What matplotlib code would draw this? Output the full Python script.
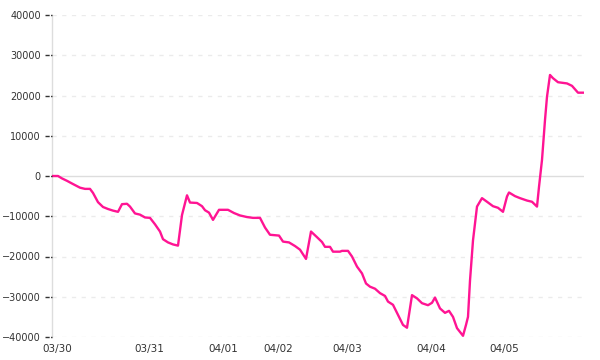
import matplotlib
matplotlib.use("Agg")
import matplotlib.pyplot as plt
import matplotlib.transforms as mtransforms
import numpy as np

# sample positions (step units along the x axis) and values
pos = [1, 6, 10, 15, 21, 28, 33, 38, 41, 46, 51, 56, 61, 66, 70, 75, 78, 83, 88,
       93, 98, 103, 108, 111, 116, 121, 126, 130, 135, 138, 145, 150, 153, 157,
       161, 167, 176, 182, 188, 195, 201, 208, 213, 218, 227, 231, 237, 243, 248,
       254, 259, 265, 270, 273, 278, 281, 288, 290, 296, 300, 305, 310, 314, 318,
       323, 328, 333, 336, 341, 346, 351, 355, 360, 365, 370, 376, 380, 383, 388,
       393, 397, 401, 405, 411, 414, 416, 418, 421, 425, 430, 435, 441, 446, 451,
       455, 457, 463, 468, 475, 480, 485, 487, 490, 493, 495, 498, 501, 506, 515,
       520, 526, 532]
values = [0, 0, -600, -1200, -2000, -2900, -3200, -3200, -4200, -6500, -7700,
          -8200, -8600, -8900, -7000, -6900, -7600, -9300, -9600, -10300, -10400,
          -12000, -13800, -15700, -16500, -17000, -17300, -9700, -4800, -6600,
          -6700, -7500, -8500, -9100, -10900, -8400, -8400, -9200, -9800, -10200,
          -10400, -10400, -12800, -14600, -14800, -16300, -16500, -17400, -18300,
          -20600, -13800, -15200, -16400, -17600, -17600, -18800, -18800, -18600,
          -18600, -20000, -22500, -24200, -26700, -27500, -28000, -29100, -29800,
          -31200, -32000, -34500, -37000, -37700, -29600, -30400, -31600, -32100,
          -31500, -30200, -32900, -34000, -33500, -35000, -37800, -39700, -37000,
          -35000, -26000, -16000, -7600, -5500, -6400, -7500, -7900, -8900, -5100,
          -4100, -5000, -5500, -6100, -6400, -7600, -2700, 4000, 13900, 19700,
          25100, 24300, 23300, 23000, 22400, 20700, 20700]

tick_pos = [5.7, 97.3, 171.3, 226.3, 295.7, 379, 452]
tick_labels = ["03/30", "03/31", "04/01", "04/02", "04/03", "04/04", "04/05"]
y_ticks = [40000, 30000, 20000, 10000, 0, -10000, -20000, -30000, -40000]

fig = plt.figure(figsize=(6, 3.6), dpi=100)
ax = fig.add_axes([52/600, 23/360, 532/600, 322/360])

for v in y_ticks:
    if v == 0:
        ax.axhline(v, color="#dddddd", lw=1, zorder=1)
    else:
        ax.axhline(v, color="#ebebeb", lw=1, ls=(0, (3, 4)), zorder=1)

ax.plot(pos, values, color="#ff1493", lw=1.7, zorder=3)

ax.set_xlim(0, 532)
ax.set_ylim(-40000, 40000)
ax.set_yticks(y_ticks)
ax.set_yticklabels([str(v).replace("-", "\u2212") for v in y_ticks])
ax.set_xticks(tick_pos)
ax.set_xticklabels(tick_labels)

# dashed tick marks to the left of the axis
trans = mtransforms.blended_transform_factory(ax.transAxes, ax.transData)
for v in y_ticks:
    ax.plot([-7/532, 0], [v, v], transform=trans, color="#333333", lw=1,
            ls=(0, (3, 1)), clip_on=False, zorder=4)

for s in ["top", "right", "bottom"]:
    ax.spines[s].set_visible(False)
ax.spines["left"].set_color("#dddddd")
ax.spines["left"].set_linewidth(1)

ax.tick_params(axis="y", length=7, width=0, labelsize=7,
               labelcolor="#333333", pad=1)
ax.tick_params(axis="x", length=0, labelsize=7.5, labelcolor="#333333", pad=5)

fig.savefig("out.png", dpi=100)
